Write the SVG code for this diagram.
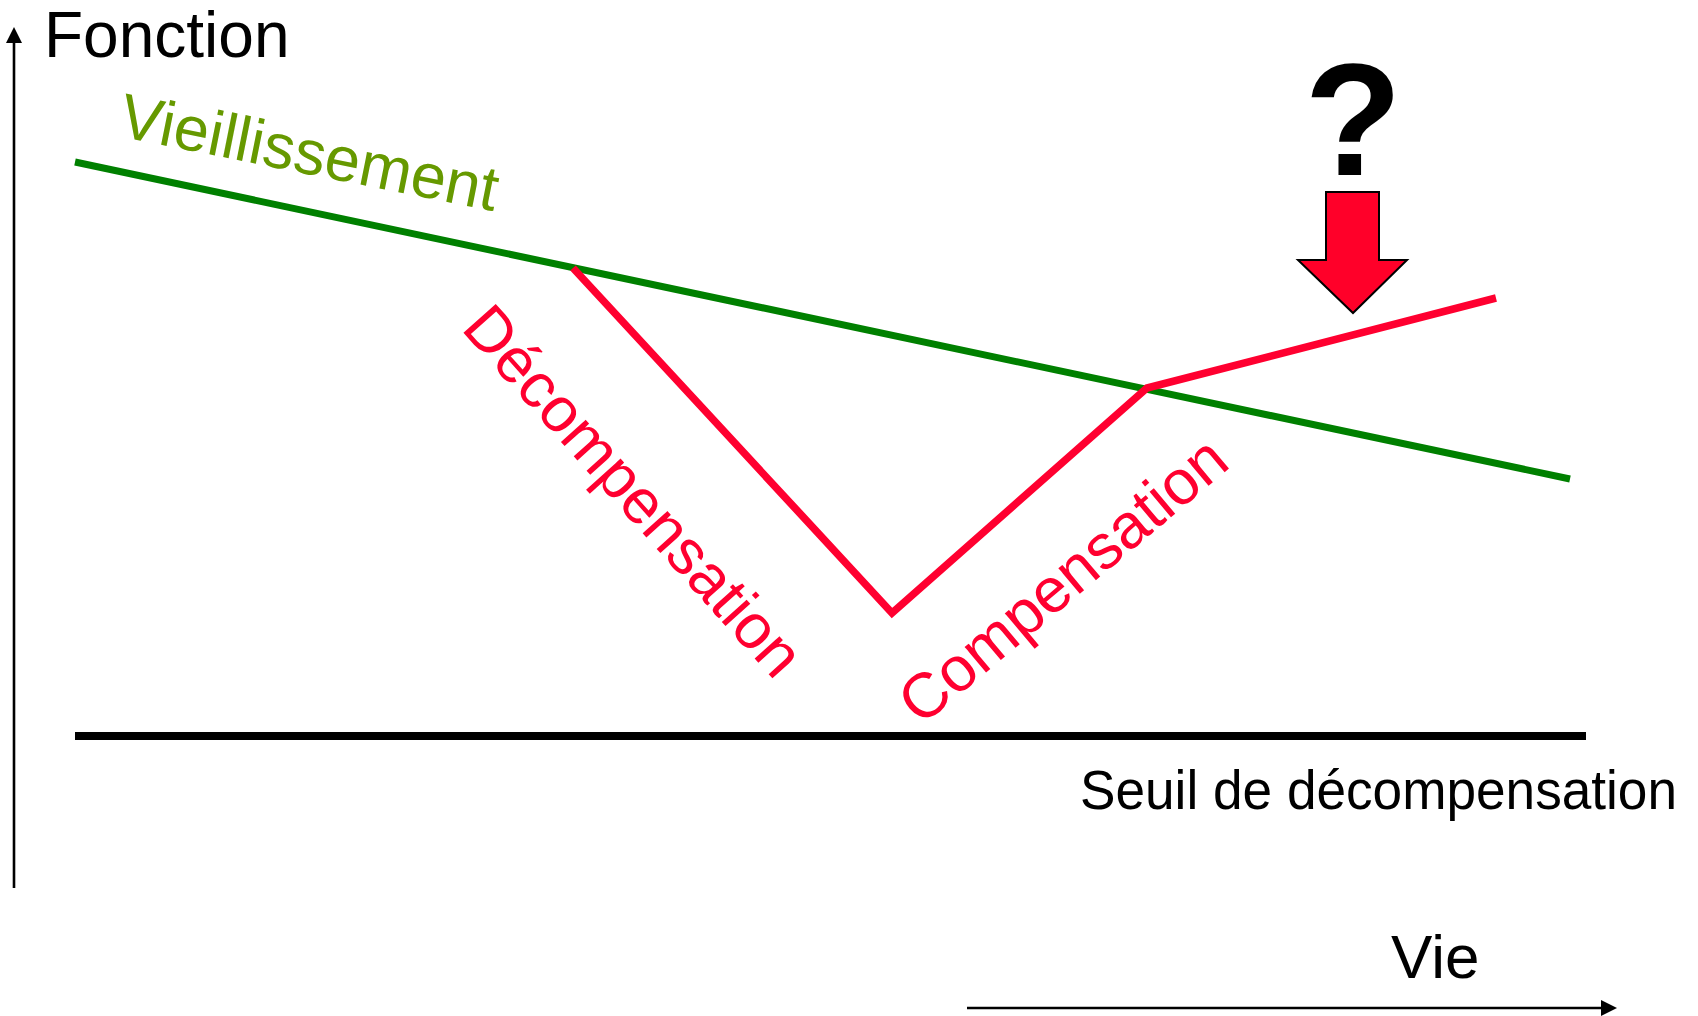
<svg xmlns="http://www.w3.org/2000/svg" width="1698" height="1016" viewBox="0 0 1698 1016">
<defs>
<style>
.t{font-family:"Liberation Sans",Arial,sans-serif;}
.axis{stroke:#000;stroke-width:2.6;fill:none;}
.red{stroke:#FF0030;stroke-width:7.5;fill:none;stroke-linejoin:miter;}
</style>
<marker id="ah" markerUnits="userSpaceOnUse" markerWidth="16" markerHeight="16" refX="6" refY="8" orient="auto" viewBox="0 0 16 16">
<path d="M0,0 L16,8 L0,16 z" fill="#000"/>
</marker>
</defs>
<rect width="1698" height="1016" fill="#fff"/>
<g id="connectors">
<line id="y-axis" class="axis" x1="14" y1="888" x2="14" y2="37" marker-end="url(#ah)"/>
<line id="x-axis" class="axis" x1="967" y1="1008" x2="1607" y2="1008" marker-end="url(#ah)"/>
<line id="aging-line" x1="75" y1="162" x2="1570" y2="479" stroke="#008000" stroke-width="7"/>
<line id="threshold-line" x1="75" y1="736" x2="1586" y2="736" stroke="#000" stroke-width="8"/>
<polyline id="red-curve" class="red" points="573,268 892,613 1147,388 1496,298"/>
</g>
<g id="label-fonction"><text class="t" x="44" y="57" font-size="64" fill="#000">Fonction</text></g>
<g id="label-vieillissement"><text class="t" x="117" y="136" font-size="63" fill="#669900" transform="rotate(11.3 117 136)">Vieillissement</text></g>
<g id="label-decompensation"><text class="t" x="460" y="329" font-size="63" fill="#FF0030" transform="rotate(48.2 460 329)">Décompensation</text></g>
<g id="label-compensation"><text class="t" x="921" y="727" font-size="63" fill="#FF0030" transform="rotate(-40 921 727)">Compensation</text></g>
<g id="label-seuil"><text class="t" x="1080" y="809" font-size="55" fill="#000" textLength="597" lengthAdjust="spacingAndGlyphs">Seuil de décompensation</text></g>
<g id="label-vie"><text class="t" x="1391" y="978" font-size="62" fill="#000">Vie</text></g>
<g id="question"><text class="t" x="1353" y="175" font-size="160" font-weight="bold" fill="#000" text-anchor="middle">?</text></g>
<g id="down-arrow"><polygon points="1326,192 1379,192 1379,260 1407,260 1353,313 1298,260 1326,260" fill="#FF0029" stroke="#000" stroke-width="2"/></g>
</svg>
